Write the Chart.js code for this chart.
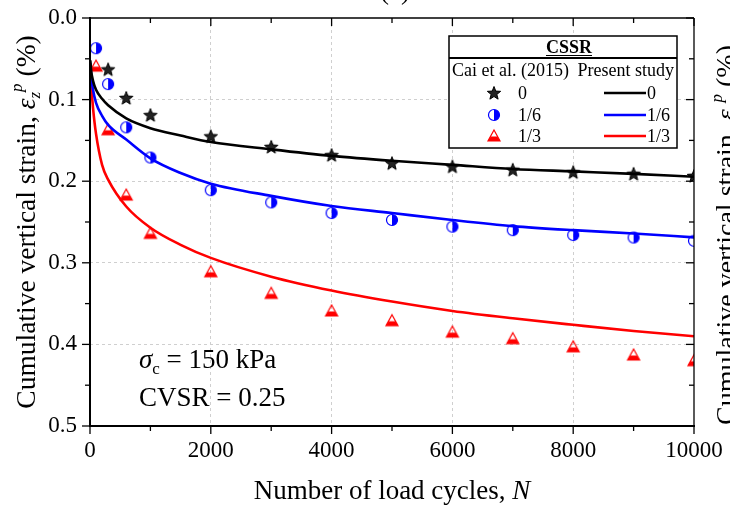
<!DOCTYPE html>
<html>
<head>
<meta charset="utf-8">
<script src="https://cdn.jsdelivr.net/npm/chart.js@4.4.0/dist/chart.umd.min.js"></script>
<style>
  body { margin: 0; background: #fff; }
  canvas { display: block; }
</style>
</head>
<body>
<canvas id="grafico" width="730" height="512"></canvas>
<script>
// Cai et al. (2015) - ensaios
const nCai0 = [300, 600, 1000, 2000, 3000, 4000, 5000, 6000, 7000, 8000, 9000, 10000]
const cai0 = [0.063, 0.098, 0.119, 0.145, 0.158, 0.168, 0.178, 0.182, 0.186, 0.189, 0.191, 0.1936]
const nCai = [100, 300, 600, 1000, 2000, 3000, 4000, 5000, 6000, 7000, 8000, 9000, 10000]
const cai16 = [0.037, 0.081, 0.134, 0.171, 0.211, 0.226, 0.239, 0.2475, 0.2557, 0.260, 0.266, 0.269, 0.273]
const cai13 = [0.059, 0.137, 0.217, 0.264, 0.311, 0.3375, 0.359, 0.371, 0.385, 0.393, 0.403, 0.413, 0.420]

// Present study - curvas
const nModelo = [5, 20, 50, 100, 200, 300, 600, 1000, 1500, 2000, 3000, 4000, 5000, 6000, 7000, 8000, 9000, 10000]
const modelo0 = [0.052, 0.065, 0.077, 0.088, 0.099, 0.107, 0.123, 0.135, 0.144, 0.152, 0.161, 0.169, 0.175, 0.180, 0.185, 0.188, 0.191, 0.1945]
const modelo16 = [0.055, 0.072, 0.088, 0.104, 0.120, 0.131, 0.149, 0.172, 0.190, 0.203, 0.218, 0.2304, 0.239, 0.2475, 0.255, 0.260, 0.264, 0.2688]
const modelo13 = [0.062, 0.082, 0.110, 0.142, 0.180, 0.198, 0.231, 0.257, 0.278, 0.294, 0.317, 0.334, 0.3475, 0.359, 0.368, 0.376, 0.3836, 0.390]

const ticksX = [0, 2000, 4000, 6000, 8000, 10000]
const ticksY = [0.0, 0.1, 0.2, 0.3, 0.4, 0.5]
const rotulosCSSR = ['0', '1/6', '1/3']

const serif = "'Liberation Serif', 'DejaVu Serif', serif"
const AZUL = '#0000ff', VERMELHO = '#ff0000', PRETO = '#000000'

function pontos(xs, ys) { return xs.map((v, i) => ({ x: v, y: ys[i] })) }

// marcadores desenhados em canvas
function marcadorEstrela() {
  const c = document.createElement('canvas'); c.width = 16; c.height = 16
  const g = c.getContext('2d')
  g.beginPath()
  for (let i = 0; i < 10; i++) {
    const r = i % 2 === 0 ? 7 : 3
    const a = -Math.PI / 2 + i * Math.PI / 5
    g.lineTo(8 + r * Math.cos(a), 8.5 + r * Math.sin(a))
  }
  g.closePath()
  g.fillStyle = '#222'; g.fill()
  g.strokeStyle = PRETO; g.lineWidth = 1; g.stroke()
  return c
}
function marcadorCirculo() {
  const c = document.createElement('canvas'); c.width = 16; c.height = 16
  const g = c.getContext('2d')
  g.beginPath(); g.arc(8, 8, 5.5, -Math.PI / 2, Math.PI / 2); g.closePath()
  g.fillStyle = AZUL; g.fill()
  g.beginPath(); g.arc(8, 8, 5.5, 0, Math.PI * 2)
  g.strokeStyle = AZUL; g.lineWidth = 1.2; g.stroke()
  return c
}
function marcadorTriangulo() {
  const c = document.createElement('canvas'); c.width = 16; c.height = 16
  const g = c.getContext('2d')
  g.beginPath(); g.moveTo(8, 2); g.lineTo(14, 13); g.lineTo(2, 13); g.closePath()
  g.strokeStyle = VERMELHO; g.lineWidth = 1.2; g.stroke()
  g.beginPath(); g.moveTo(4.7, 8.5); g.lineTo(11.3, 8.5); g.lineTo(14, 13); g.lineTo(2, 13); g.closePath()
  g.fillStyle = VERMELHO; g.fill()
  return c
}
const estrela = marcadorEstrela()
const circulo = marcadorCirculo()
const triangulo = marcadorTriangulo()

// texto com partes em fontes diferentes (italico, sub/sobrescrito)
function textoRico(ctx, partes, x, y, alinhamento) {
  let total = 0
  partes.forEach(p => { ctx.font = p.f; total += ctx.measureText(p.t).width })
  let cx = alinhamento === 'center' ? x - total / 2 : x
  ctx.textAlign = 'left'; ctx.textBaseline = 'alphabetic'
  partes.forEach(p => {
    ctx.font = p.f
    ctx.fillText(p.t, cx, y + (p.dy || 0))
    cx += ctx.measureText(p.t).width
  })
}

function tituloY(tam) {
  const sub = Math.round(tam * 0.6) + 'px '
  return [
    { t: 'Cumulative vertical strain, ', f: tam + 'px ' + serif },
    { t: 'ε', f: 'italic ' + tam + 'px ' + serif },
    { t: 'z', f: 'italic ' + sub + serif, dy: 5 },
    { t: 'p', f: 'italic ' + sub + serif, dy: -13 },
    { t: ' (%)', f: tam + 'px ' + serif }
  ]
}

// zera o padding extra dos rotulos, para a area do grafico ficar fixa
function semPadding(s) {
  s.paddingLeft = 0; s.paddingRight = 0; s.paddingTop = 0; s.paddingBottom = 0
}

const moldura = {
  id: 'moldura',
  afterDraw(chart) {
    const { ctx, chartArea: a, scales: { x, y } } = chart
    ctx.save()
    ctx.strokeStyle = PRETO
    const linha = (x1, y1, x2, y2) => { ctx.beginPath(); ctx.moveTo(x1, y1); ctx.lineTo(x2, y2); ctx.stroke() }

    // caixa
    ctx.lineWidth = 1.3
    linha(a.left, a.top, a.right, a.top)
    linha(a.right, a.top, a.right, a.bottom)
    ctx.lineWidth = 2
    linha(a.left, a.top - 1, a.left, a.bottom + 1)
    linha(a.left - 1, a.bottom, a.right + 1, a.bottom)

    // ticks maiores e menores
    ctx.lineWidth = 1.3
    x.ticks.forEach(t => {
      const px = x.getPixelForValue(t.value)
      const L = ticksX.includes(t.value) ? 8 : 5
      linha(px, a.bottom, px, a.bottom + L)
      linha(px, a.top, px, a.top + L)
    })
    y.ticks.forEach(t => {
      const py = y.getPixelForValue(t.value)
      const maior = ticksY.some(v => Math.abs(v - t.value) < 1e-6)
      const L = maior ? 8 : 5
      linha(a.left - L, py, a.left, py)
      linha(a.right - L, py, a.right, py)
    })

    ctx.fillStyle = PRETO
    // titulos dos eixos
    textoRico(ctx, [
      { t: 'Number of load cycles, ', f: '27px ' + serif },
      { t: 'N', f: 'italic 27px ' + serif }
    ], (a.left + a.right) / 2, 499, 'center')

    ctx.save()
    ctx.translate(35, (a.top + a.bottom) / 2)
    ctx.rotate(-Math.PI / 2)
    textoRico(ctx, tituloY(27.5), 0, 0, 'center')
    ctx.restore()

    // anotacao
    textoRico(ctx, [
      { t: 'σ', f: 'italic 27px ' + serif },
      { t: 'c', f: '17px ' + serif, dy: 6 },
      { t: ' = 150 kPa', f: '27px ' + serif }
    ], 139, 368)
    textoRico(ctx, [{ t: 'CVSR = 0.25', f: '27px ' + serif }], 139, 406)

    // legenda em tabela
    const L0 = 449, L1 = 677, T0 = 36, T1 = 148
    ctx.fillStyle = '#fff'
    ctx.fillRect(L0, T0, L1 - L0, T1 - T0)
    ctx.lineWidth = 1.5
    ctx.strokeRect(L0, T0, L1 - L0, T1 - T0)
    ctx.lineWidth = 2
    linha(L0, 58, L1, 58)
    ctx.fillStyle = PRETO
    ctx.font = 'bold 18px ' + serif
    ctx.textAlign = 'center'; ctx.textBaseline = 'alphabetic'
    ctx.fillText('CSSR', 569, 53)
    const w = ctx.measureText('CSSR').width
    ctx.lineWidth = 1.2
    linha(569 - w / 2, 55.5, 569 + w / 2, 55.5)
    ctx.font = '18px ' + serif
    ctx.textAlign = 'left'
    ctx.fillText('Cai et al. (2015)', 452, 76)
    ctx.textAlign = 'right'
    ctx.fillText('Present study', 674, 76)
    const marcas = [estrela, circulo, triangulo]
    const cores = [PRETO, AZUL, VERMELHO]
    const linhasY = [93, 115, 136]
    rotulosCSSR.forEach((r, i) => {
      const cy = linhasY[i]
      ctx.drawImage(marcas[i], 494 - 8, cy - 8)
      ctx.textAlign = 'left'; ctx.textBaseline = 'middle'
      ctx.fillStyle = PRETO
      ctx.font = '18px ' + serif
      ctx.fillText(r, 518, cy + 1)
      ctx.fillText(r, 647, cy + 1)
      ctx.strokeStyle = cores[i]; ctx.lineWidth = 2.5
      linha(604, cy, 646, cy)
      ctx.strokeStyle = PRETO
    })

    // pedacos das figuras vizinhas (cortados)
    ctx.fillStyle = PRETO
    ctx.font = '27px ' + serif
    ctx.textAlign = 'center'; ctx.textBaseline = 'alphabetic'
    ctx.fillText('(a)', 395, -1)
    ctx.save()
    ctx.translate(735, 235)
    ctx.rotate(-Math.PI / 2)
    textoRico(ctx, tituloY(28), 0, 0, 'center')
    ctx.restore()
    ctx.restore()
  }
}

const ctx = document.getElementById('grafico')

new Chart(ctx, {
  type: 'scatter',
  data: {
    datasets: [
      { type: 'line', label: 'Present 0', data: pontos(nModelo, modelo0), borderColor: PRETO, borderWidth: 2.6, pointRadius: 0, cubicInterpolationMode: 'monotone' },
      { type: 'line', label: 'Present 1/6', data: pontos(nModelo, modelo16), borderColor: AZUL, borderWidth: 2.6, pointRadius: 0, cubicInterpolationMode: 'monotone' },
      { type: 'line', label: 'Present 1/3', data: pontos(nModelo, modelo13), borderColor: VERMELHO, borderWidth: 2.6, pointRadius: 0, cubicInterpolationMode: 'monotone' },
      { label: 'Cai 0', data: pontos(nCai0, cai0), pointStyle: estrela, showLine: false },
      { label: 'Cai 1/6', data: pontos(nCai, cai16), pointStyle: circulo, showLine: false },
      { label: 'Cai 1/3', data: pontos(nCai, cai13), pointStyle: triangulo, showLine: false }
    ]
  },
  options: {
    responsive: false,
    animation: false,
    layout: { padding: { top: 18, right: 36, left: 0, bottom: 0 } },
    plugins: { legend: { display: false }, tooltip: { enabled: false } },
    scales: {
      x: {
        type: 'linear', min: 0, max: 10000,
        afterFit: s => { s.height = 86; semPadding(s) },
        ticks: {
          stepSize: 1000, autoSkip: false, maxRotation: 0, padding: 11,
          color: PRETO, font: { family: serif, size: 23 },
          callback: v => ticksX.includes(v) ? String(v) : ''
        },
        grid: {
          drawTicks: false,
          color: c => (c.tick && ticksX.includes(c.tick.value) && c.tick.value > 0 && c.tick.value < 10000) ? '#cfcfcf' : 'rgba(0,0,0,0)'
        },
        border: { display: false, dash: [3, 3] }
      },
      y: {
        type: 'linear', min: 0, max: 0.5, reverse: true,
        afterFit: s => { s.width = 90; semPadding(s) },
        ticks: {
          stepSize: 0.05, autoSkip: false, padding: 13,
          color: PRETO, font: { family: serif, size: 23 },
          callback: v => ticksY.some(t => Math.abs(t - v) < 1e-6) ? v.toFixed(1) : ''
        },
        grid: {
          drawTicks: false,
          color: c => (c.tick && ticksY.some(t => Math.abs(t - c.tick.value) < 1e-6) && c.tick.value > 0.01 && c.tick.value < 0.49) ? '#cfcfcf' : 'rgba(0,0,0,0)'
        },
        border: { display: false, dash: [3, 3] }
      }
    }
  },
  plugins: [moldura]
})
</script>
</body>
</html>
